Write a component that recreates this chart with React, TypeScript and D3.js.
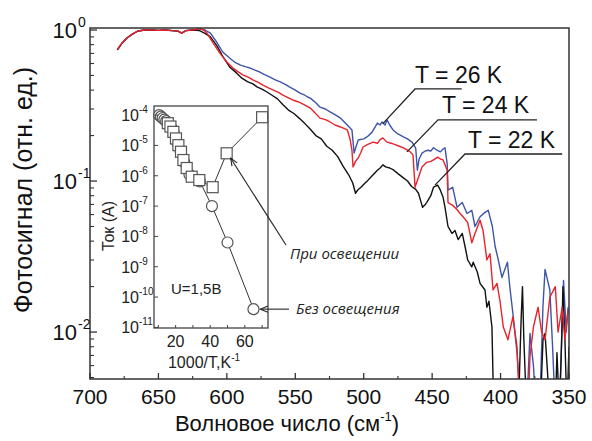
import React from "react";
import * as d3 from "d3";

// ---------- main spectra (wavenumber, cm^-1 ; photosignal, rel. units) ----------
const WN_22 = [680, 677, 673, 669, 665, 660, 655, 650, 645, 640, 636, 633, 630, 625, 620, 616, 612, 607, 603, 598, 593, 589, 585, 581, 578, 574, 571, 567, 563, 559, 555, 551, 547, 543, 539, 535, 531, 527, 523, 519, 515, 511, 508, 506, 504, 502, 499, 497, 494, 490, 488, 486, 484, 481, 478, 475, 471, 468, 465, 462, 460, 458, 457, 455, 454, 451, 449, 446, 444, 442, 440.6, 438.4, 435.5, 433.3, 431, 428, 426, 424, 421, 420, 417, 415, 411.4, 410, 408.5, 406.3, 405, 387, 385, 384, 383, 381, 371, 369, 367.5, 366, 364, 360, 358.8, 357, 355.5, 354.4, 353, 351.5, 350];
const SIG_22 = [0.74, 0.81, 0.885, 0.94, 0.985, 1.0, 1.0, 0.995, 1.0, 0.99, 0.985, 0.955, 0.99, 1.0, 0.99, 0.95, 0.9, 0.78, 0.67, 0.57, 0.52, 0.48, 0.455, 0.44, 0.42, 0.405, 0.39, 0.37, 0.35, 0.32, 0.295, 0.28, 0.26, 0.24, 0.22, 0.2, 0.19, 0.17, 0.16, 0.145, 0.125, 0.11, 0.097, 0.083, 0.088, 0.091, 0.097, 0.101, 0.108, 0.118, 0.122, 0.128, 0.124, 0.122, 0.118, 0.112, 0.105, 0.1, 0.092, 0.088, 0.083, 0.072, 0.067, 0.07, 0.072, 0.08, 0.091, 0.094, 0.087, 0.078, 0.067, 0.05, 0.045, 0.047, 0.041, 0.045, 0.037, 0.03, 0.027, 0.029, 0.025, 0.021, 0.019, 0.0146, 0.016, 0.0108, 0.003, 0.003, 0.012, 0.02, 0.009, 0.003, 0.003, 0.0089, 0.0098, 0.006, 0.003, 0.003, 0.0073, 0.003, 0.008, 0.02, 0.009, 0.003, 0.008];

const WN_24 = [680, 677, 673, 669, 665, 660, 655, 650, 645, 640, 636, 633, 630, 625, 620, 617, 614.5, 610, 605, 600, 595.5, 592, 588, 584, 581, 577, 573.6, 570, 566, 562, 559, 555, 552, 548, 545, 542, 539, 536, 532, 528, 524.6, 521, 517, 514, 512, 510, 508.6, 507.8, 506, 504, 502, 500.5, 497, 493, 490, 488, 486, 483, 480, 477, 474, 471, 468, 466, 464, 462.5, 460, 457.4, 454, 451, 449, 446, 444, 442, 439, 438.4, 435, 432, 429.6, 427.4, 424, 421, 418.7, 415, 412.8, 410, 407.7, 405.5, 402.6, 400.4, 398, 394.6, 391, 388, 386, 380, 378.5, 376, 372.6, 370, 367.5, 364, 360, 358, 355, 353, 350.7];
const SIG_24 = [0.74, 0.81, 0.885, 0.94, 0.985, 1.0, 1.0, 0.995, 1.0, 0.99, 0.985, 0.955, 0.99, 1.0, 1.02, 1.0, 0.955, 0.82, 0.7, 0.614, 0.56, 0.53, 0.503, 0.485, 0.467, 0.45, 0.432, 0.415, 0.4, 0.385, 0.371, 0.355, 0.344, 0.335, 0.325, 0.315, 0.304, 0.285, 0.261, 0.255, 0.246, 0.235, 0.228, 0.222, 0.218, 0.19, 0.16, 0.124, 0.135, 0.142, 0.155, 0.168, 0.175, 0.181, 0.178, 0.188, 0.193, 0.181, 0.178, 0.174, 0.17, 0.166, 0.16, 0.156, 0.149, 0.091, 0.106, 0.124, 0.133, 0.135, 0.138, 0.144, 0.14, 0.138, 0.118, 0.072, 0.069, 0.065, 0.061, 0.058, 0.053, 0.039, 0.045, 0.055, 0.047, 0.03, 0.033, 0.019, 0.021, 0.016, 0.0108, 0.0089, 0.0126, 0.008, 0.003, 0.003, 0.0069, 0.0108, 0.0146, 0.01, 0.0089, 0.017, 0.02, 0.01, 0.0146, 0.0089, 0.014];

const WN_26 = [680, 677, 673, 669, 665, 660, 655, 650, 645, 640, 636, 633, 630, 625, 620, 616, 612, 607, 603, 598, 594, 590, 586, 583, 579, 576, 572, 568.5, 565, 561, 557, 554, 550, 546.6, 543, 541, 539, 535, 532, 528, 524.6, 521, 517, 514, 512, 508.6, 507, 505.5, 504, 500, 497.6, 494, 490, 488, 486.6, 484.4, 483, 481, 478.6, 475, 471, 468, 464.7, 462, 460.8, 459.5, 457.4, 455, 453, 451, 449, 446.5, 444, 442, 440.6, 439, 438.4, 435, 431.8, 428, 424.5, 421, 418.7, 415, 411.4, 409, 406, 404, 402, 399, 395, 393, 391, 388, 385, 381, 378.5, 376, 374, 371, 369, 367.5, 364, 362, 360, 357, 354, 352, 350.7];
const SIG_26 = [0.74, 0.81, 0.885, 0.94, 0.985, 1.0, 1.0, 0.995, 1.0, 0.99, 0.985, 0.955, 0.99, 1.0, 1.02, 1.0, 0.955, 0.82, 0.715, 0.652, 0.61, 0.586, 0.57, 0.56, 0.54, 0.527, 0.505, 0.488, 0.47, 0.453, 0.435, 0.419, 0.4, 0.382, 0.37, 0.36, 0.354, 0.33, 0.309, 0.3, 0.287, 0.275, 0.261, 0.245, 0.235, 0.218, 0.153, 0.17, 0.187, 0.19, 0.196, 0.21, 0.242, 0.235, 0.246, 0.235, 0.254, 0.235, 0.218, 0.205, 0.196, 0.19, 0.181, 0.165, 0.118, 0.14, 0.153, 0.158, 0.16, 0.158, 0.166, 0.16, 0.156, 0.163, 0.166, 0.13, 0.087, 0.091, 0.067, 0.072, 0.061, 0.064, 0.05, 0.058, 0.062, 0.064, 0.05, 0.037, 0.031, 0.023, 0.029, 0.019, 0.0133, 0.0073, 0.003, 0.003, 0.0098, 0.006, 0.003, 0.004, 0.015, 0.026, 0.019, 0.008, 0.003, 0.003, 0.022, 0.01, 0.0146];

const X_TICKS = [700, 650, 600, 550, 500, 450, 400, 350];
const X_MINOR = [675, 625, 575, 525, 475, 425, 375];
const Y_DECADES = [0, -1, -2];

// ---------- inset: current vs 1000/T ----------
const DARK_X = [10.5, 11.5, 12.5, 13.5, 14.5, 15.5, 16.5, 17.5, 19, 21, 23, 25, 28, 34, 41, 50, 65];
const DARK_I = [1.0e-4, 8.9e-5, 7.9e-5, 7.1e-5, 6.3e-5, 5.4e-5, 4.7e-5, 3.8e-5, 2.5e-5, 1.26e-5, 6.3e-6, 2.8e-6, 1.1e-6, 6.5e-7, 1.0e-7, 6.3e-9, 4.0e-11];
const LIGHT_X = [15.5, 17, 18.7, 20.2, 21.6, 23.1, 24.5, 26.4, 29.3, 33.7, 41.4, 49.5, 70];
const LIGHT_I = [5.4e-5, 4.2e-5, 2.8e-5, 1.7e-5, 1.02e-5, 6.2e-6, 3.3e-6, 1.8e-6, 9.3e-7, 7.2e-7, 4.2e-7, 5.5e-6, 8.5e-5];
const INSET_X_TICKS = [10, 20, 30, 40, 50, 60, 70];
const INSET_X_LABELS = [20, 40, 60];
const INSET_Y_DECADES = [-4, -5, -6, -7, -8, -9, -10, -11];

const SERIES = [
  { wn: WN_26, sig: SIG_26, color: "#3d55a8", label: "T = 26 K" },
  { wn: WN_22, sig: SIG_22, color: "#111111", label: "T = 22 K" },
  { wn: WN_24, sig: SIG_24, color: "#e8232b", label: "T = 24 K" },
];

const FONT = "'Liberation Sans', Arial, sans-serif";

export default function App() {
  const L = 90, R = 569, T = 28, B = 379;
  const x = d3.scaleLinear().domain([700, 350]).range([L, R]);
  const y = d3.scaleLog().domain([0.00489, 1.031]).range([B, T]);

  const iL = 154, iR = 268, iT = 106, iB = 328;
  const xi = d3.scaleLinear().domain([7.5, 73.4]).range([iL, iR]);
  const yi = d3.scaleLog().domain([Math.pow(10, -11.02), Math.pow(10, -3.7)]).range([iB, iT]);

  const lineFor = (wn: number[], sig: number[]) =>
    d3.line<number>().x((_, i) => x(wn[i])).y((d) => y(d))(sig) || "";

  const minorY: number[] = [];
  for (let e = -3; e <= 0; e++) {
    for (let k = 2; k <= 9; k++) {
      const v = k * Math.pow(10, e);
      if (v >= 0.00489 && v <= 1.031) minorY.push(v);
    }
  }

  const insetLine = (xs: number[], is: number[]) =>
    d3.line<number>().x((_, i) => xi(xs[i])).y((d) => yi(d))(is) || "";

  const ann = [
    { label: "T = 26 K", ax: 486, ay: 0.24, ex: 462.5, ey: 0.407, endX: 428.4, dx: 0, dy: -6 },
    { label: "T = 24 K", ax: 468.4, ay: 0.156, ex: 445.7, ey: 0.254, endX: 373.4, dx: 4, dy: -7 },
    { label: "T = 22 K", ax: 447.9, ay: 0.094, ex: 426, ey: 0.151, endX: 355, dx: 3, dy: -6 },
  ];

  const arrowHead = (tx: number, ty: number, fx: number, fy: number, len = 8, ang = 0.4) => {
    const a = Math.atan2(fy - ty, fx - tx);
    const p1 = [tx + len * Math.cos(a + ang), ty + len * Math.sin(a + ang)];
    const p2 = [tx + len * Math.cos(a - ang), ty + len * Math.sin(a - ang)];
    return `M${p1[0]},${p1[1]}L${tx},${ty}L${p2[0]},${p2[1]}`;
  };

  const sqTarget = [xi(LIGHT_X[11]) + 4, yi(LIGHT_I[11]) + 5];
  const ciTarget = [xi(DARK_X[16]) + 7, yi(DARK_I[16])];

  return (
    <svg width={592} height={441} style={{ position: "absolute", left: 0, top: 0, background: "#fff" }} fontFamily={FONT}>
      <defs>
        <clipPath id="plotClip">
          <rect x={L} y={T} width={R - L} height={B - T} />
        </clipPath>
      </defs>
      <rect x={0} y={0} width={592} height={441} fill="#fff" />

      <g clipPath="url(#plotClip)">
        {SERIES.map((s) => (
          <path key={s.label} d={lineFor(s.wn, s.sig)} fill="none" stroke={s.color} strokeWidth={1.4} strokeLinejoin="round" />
        ))}
      </g>

      <rect x={L} y={T} width={R - L} height={B - T} fill="none" stroke="#333" strokeWidth={1.5} />

      {Y_DECADES.map((e) => (
        <g key={"yd" + e}>
          <line x1={L} x2={L + 7} y1={y(Math.pow(10, e))} y2={y(Math.pow(10, e))} stroke="#333" strokeWidth={1.3} />
          <text x={L - 13} y={y(Math.pow(10, e)) + 8} fontSize={22} textAnchor="end" fill="#111">
            10
          </text>
          <text x={L - 12} y={y(Math.pow(10, e)) - 3} fontSize={14} textAnchor="start" fill="#111">
            {e === 0 ? "0" : String(e)}
          </text>
        </g>
      ))}
      {minorY.map((v) => (
        <line key={"ym" + v} x1={L} x2={L + 4} y1={y(v)} y2={y(v)} stroke="#333" strokeWidth={1.1} />
      ))}

      {X_TICKS.map((t) => (
        <g key={"xt" + t}>
          <line x1={x(t)} x2={x(t)} y1={B} y2={B - 6} stroke="#333" strokeWidth={1.3} />
          <text x={x(t)} y={404} fontSize={21} textAnchor="middle" fill="#111">
            {t}
          </text>
        </g>
      ))}
      {X_MINOR.map((t) => (
        <line key={"xm" + t} x1={x(t)} x2={x(t)} y1={B} y2={B - 3} stroke="#333" strokeWidth={1.1} />
      ))}

      <text x={287} y={431} fontSize={22} textAnchor="middle" fill="#111">
        Волновое число (см
        <tspan dy={-10} fontSize={13}>-1</tspan>
        <tspan dy={10}>)</tspan>
      </text>
      <text transform="translate(32,190) rotate(-90)" fontSize={25} textAnchor="middle" fill="#111">
        Фотосигнал (отн. ед.)
      </text>

      {ann.map((a) => (
        <g key={a.label}>
          <path
            d={`M${x(a.ax)},${y(a.ay)}L${x(a.ex)},${y(a.ey)}L${x(a.endX)},${y(a.ey)}`}
            fill="none"
            stroke="#222"
            strokeWidth={1.3}
          />
          <text x={x(a.ex) + a.dx} y={y(a.ey) + a.dy} fontSize={23} fill="#111">
            {a.label}
          </text>
        </g>
      ))}

      {/* ---------- inset ---------- */}
      <rect x={iL} y={iT} width={iR - iL} height={iB - iT} fill="#fff" stroke="#444" strokeWidth={1.3} />
      <path d={insetLine(DARK_X, DARK_I)} fill="none" stroke="#333" strokeWidth={1} />
      <path d={insetLine(LIGHT_X, LIGHT_I)} fill="none" stroke="#333" strokeWidth={1} />
      {DARK_X.map((v, i) => (
        <circle key={"c" + i} cx={xi(v)} cy={yi(DARK_I[i])} r={5.5} fill="#fff" stroke="#555" strokeWidth={1.2} />
      ))}
      {LIGHT_X.map((v, i) => (
        <rect key={"s" + i} x={xi(v) - 5.5} y={yi(LIGHT_I[i]) - 5.5} width={11} height={11} fill="#fff" stroke="#555" strokeWidth={1.2} />
      ))}
      {INSET_Y_DECADES.map((e) => (
        <g key={"iy" + e}>
          <line x1={iL} x2={iL + 4} y1={yi(Math.pow(10, e))} y2={yi(Math.pow(10, e))} stroke="#444" strokeWidth={1} />
          <text x={iL - 15} y={yi(Math.pow(10, e)) + 6} fontSize={16} textAnchor="end" fill="#222">
            10
          </text>
          <text x={iL - 15} y={yi(Math.pow(10, e)) - 2} fontSize={10} textAnchor="start" fill="#222">
            {String(e)}
          </text>
        </g>
      ))}
      {INSET_X_TICKS.map((t) => (
        <line key={"ix" + t} x1={xi(t)} x2={xi(t)} y1={iB} y2={iB - 3} stroke="#444" strokeWidth={1} />
      ))}
      {INSET_X_LABELS.map((t) => (
        <text key={"ixl" + t} x={xi(t)} y={347} fontSize={16} textAnchor="middle" fill="#222">
          {t}
        </text>
      ))}
      <text x={204} y={368} fontSize={16} textAnchor="middle" fill="#222">
        1000/T,K
        <tspan dy={-7} fontSize={10}>-1</tspan>
      </text>
      <text transform="translate(114,226) rotate(-90)" fontSize={16} textAnchor="middle" fill="#222">
        Ток (А)
      </text>
      <text x={171} y={294} fontSize={15} fill="#222">
        U=1,5В
      </text>

      <path d={`M286,245L${sqTarget[0]},${sqTarget[1]}`} stroke="#222" strokeWidth={1.1} fill="none" />
      <path d={arrowHead(sqTarget[0], sqTarget[1], 286, 245)} stroke="#222" strokeWidth={1.1} fill="none" />
      <text x={290} y={259} fontSize={15} fontStyle="italic" fontFamily="'Open Sans', sans-serif" fill="#222">
        При освещении
      </text>
      <path d={`M289,${ciTarget[1]}L${ciTarget[0]},${ciTarget[1]}`} stroke="#222" strokeWidth={1.1} fill="none" />
      <path d={arrowHead(ciTarget[0], ciTarget[1], 289, ciTarget[1])} stroke="#222" strokeWidth={1.1} fill="none" />
      <text x={296} y={314} fontSize={15} fontStyle="italic" fontFamily="'Open Sans', sans-serif" fill="#222">
        Без освещения
      </text>
    </svg>
  );
}
